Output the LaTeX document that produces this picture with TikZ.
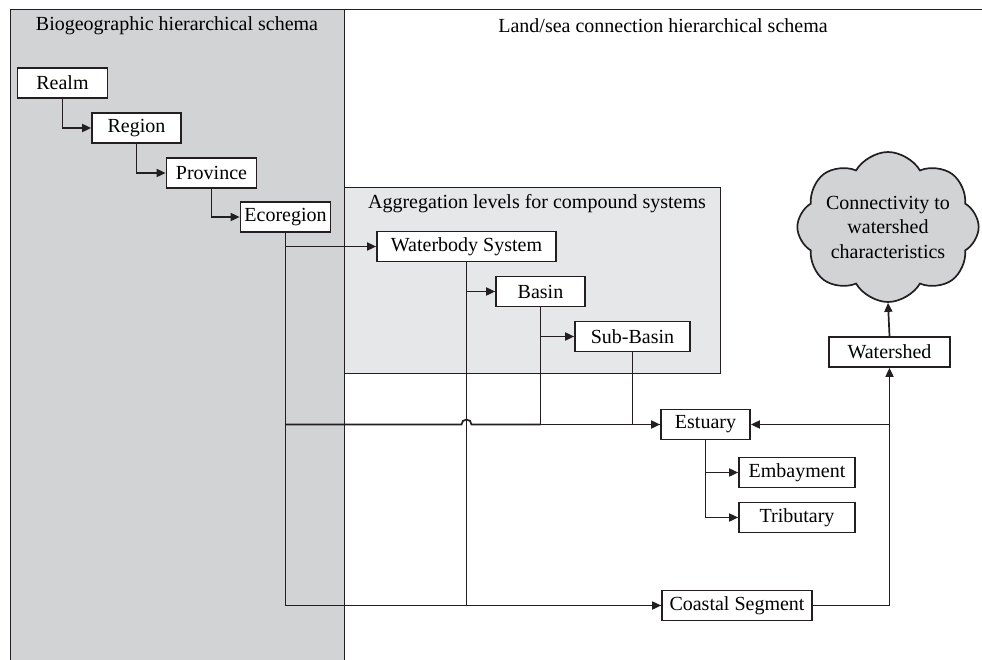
\documentclass[tikz,border=0pt]{standalone}
\usepackage{fontspec}
\setmainfont{Liberation Serif}
\usetikzlibrary{shapes.symbols,arrows.meta}
\definecolor{panelgray}{HTML}{D1D3D4}
\definecolor{agggray}{HTML}{E6E7E8}
\definecolor{linec}{HTML}{231F20}
\tikzset{
  box/.style={draw=linec,line width=1.7pt,fill=white,minimum height=30pt,inner sep=0pt,font=\fontsize{20}{23}\selectfont},
  arr/.style={-{Triangle[length=9pt,width=8pt]}},
  conn/.style={draw=linec,line width=1.7pt},
  ttl/.style={font=\fontsize{20}{23}\selectfont,inner sep=0pt}
}
\begin{document}
\begin{tikzpicture}[x=1pt,y=-1pt]
\useasboundingbox (0,0) rectangle (982,660);
% panels
\fill[panelgray] (10.5,9.5) rectangle (344.5,662);
\fill[agggray] (344.5,187.5) rectangle (720.5,373.5);
\draw[linec,line width=1.7pt] (10.5,662) -- (10.5,9.5) -- (982,9.5);
\draw[linec,line width=1.7pt] (344.5,9.5) -- (344.5,662);
\draw[linec,line width=1.7pt] (344.5,187.5) -- (720.5,187.5) -- (720.5,373.5) -- (344.5,373.5);
\node[ttl] (t1) at (177,26) {Biogeographic hierarchical schema};
\node[ttl] (t2) at (663,26) {Land/sea connection hierarchical schema};
\node[ttl] (t3) at (537,204) {Aggregation levels for compound systems};
% nodes
\node[box,minimum width=90pt] (realm) at (62.5,83) {Realm};
\node[box,minimum width=89pt] (region) at (136.5,128) {Region};
\node[box,minimum width=90pt] (prov) at (211.5,173) {Province};
\node[box,minimum width=90pt] (eco) at (285.5,217) {Ecoregion};
\node[box,minimum width=179pt] (wbs) at (466.5,246.5) {Waterbody System};
\node[box,minimum width=89pt] (basin) at (540.5,291.5) {Basin};
\node[box,minimum width=115pt] (sub) at (632.5,336.5) {Sub-Basin};
\node[box,minimum width=89pt] (est) at (705.5,424.5) {Estuary};
\node[box,minimum width=116pt] (emb) at (797,472.5) {Embayment};
\node[box,minimum width=116pt] (trib) at (797,517.5) {Tributary};
\node[box,minimum width=150pt] (coast) at (737,605.5) {Coastal Segment};
\node[box,minimum width=121pt] (wshed) at (889.5,352) {Watershed};
\node[cloud,cloud puffs=8,cloud puff arc=120,cloud ignores aspect,draw=linec,line width=1.7pt,fill=panelgray,
      minimum width=162pt,minimum height=150pt,inner sep=0pt,align=center,
      font=\fontsize{20}{24.5}\selectfont] (cloud) at (888,227)
      {Connectivity to\\watershed\\characteristics};
% connectors
\draw[conn,arr] (realm.south) |- (region.west);
\draw[conn,arr] (region.south) |- (prov.west);
\draw[conn,arr] (prov.south) |- (eco.west);
\draw[conn,arr] (eco.south) |- (wbs.west);
\draw[conn,arr] (eco.south) |- (coast.west);
\coordinate (ej) at (eco.south |- est.west);
\coordinate (jc) at (wbs.south |- est.west);
\draw[conn] (ej) -- ([xshift=-5pt]jc) arc[start angle=180,end angle=0,radius=5pt] -- (basin.south |- est.west);
\draw[conn,arr] (wbs.south) |- (basin.west);
\draw[conn] (wbs.south) |- (coast.west);
\draw[conn,arr] (basin.south) |- (sub.west);
\draw[conn,arr] (basin.south) |- (est.west);
\draw[conn] (sub.south) |- (est.west);
\draw[conn,arr] (est.south) |- (emb.west);
\draw[conn,arr] (est.south) |- (trib.west);
\draw[conn,arr] (coast.east) -| (wshed.south);
\draw[conn,arr] (wshed.south |- est.east) -- (est.east);
\draw[conn,arr] (wshed.north) -- (cloud.south);
\end{tikzpicture}
\end{document}
